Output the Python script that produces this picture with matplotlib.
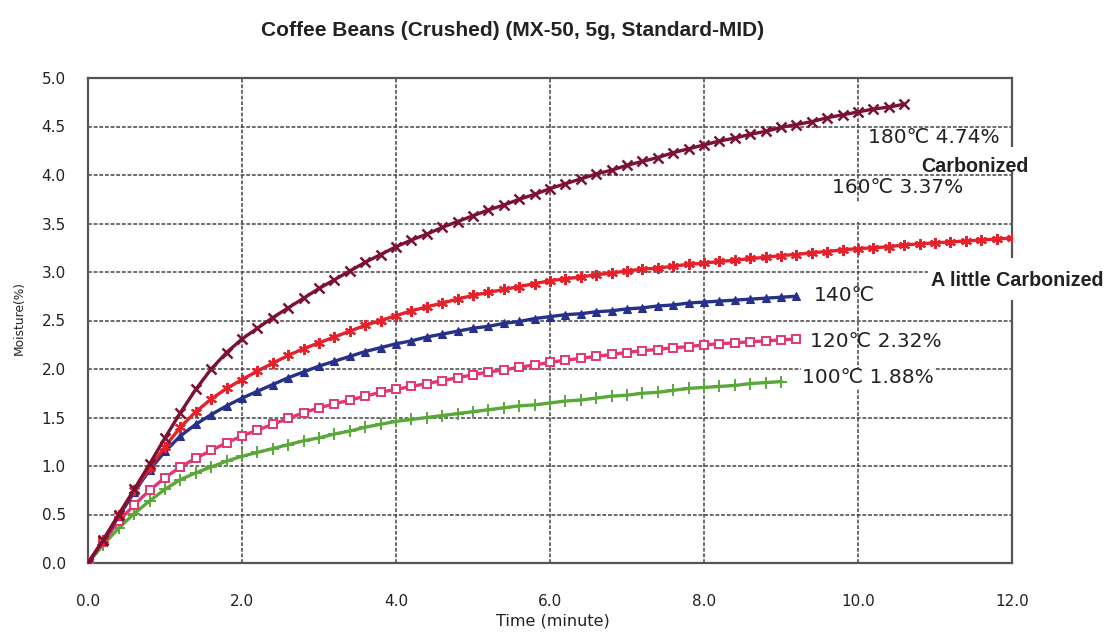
import matplotlib
matplotlib.use("Agg")
import matplotlib.pyplot as plt
from matplotlib.patches import Rectangle

# ---------------- data ----------------
time_min = [0.0, 0.2, 0.4, 0.6, 0.8, 1.0, 1.2, 1.4, 1.6, 1.8,
            2.0, 2.2, 2.4, 2.6, 2.8, 3.0, 3.2, 3.4, 3.6, 3.8,
            4.0, 4.2, 4.4, 4.6, 4.8, 5.0, 5.2, 5.4, 5.6, 5.8,
            6.0, 6.2, 6.4, 6.6, 6.8, 7.0, 7.2, 7.4, 7.6, 7.8,
            8.0, 8.2, 8.4, 8.6, 8.8, 9.0, 9.2, 9.4, 9.6, 9.8,
            10.0, 10.2, 10.4, 10.6, 10.8, 11.0, 11.2, 11.4, 11.6, 11.8,
            12.0]

m180 = [0.00, 0.24, 0.50, 0.76, 1.02, 1.29, 1.55, 1.79, 2.00, 2.17,
        2.31, 2.42, 2.53, 2.63, 2.73, 2.83, 2.92, 3.01, 3.10, 3.18,
        3.26, 3.33, 3.39, 3.46, 3.52, 3.58, 3.64, 3.69, 3.75, 3.80,
        3.86, 3.91, 3.96, 4.01, 4.05, 4.10, 4.14, 4.18, 4.23, 4.27,
        4.31, 4.35, 4.38, 4.42, 4.45, 4.49, 4.52, 4.55, 4.59, 4.62,
        4.65, 4.68, 4.70, 4.73]

m160 = [0.00, 0.24, 0.50, 0.75, 0.98, 1.20, 1.40, 1.56, 1.69, 1.80,
        1.89, 1.98, 2.06, 2.14, 2.21, 2.27, 2.33, 2.39, 2.45, 2.50,
        2.55, 2.60, 2.64, 2.68, 2.72, 2.76, 2.79, 2.82, 2.85, 2.88,
        2.91, 2.93, 2.95, 2.97, 2.99, 3.01, 3.03, 3.04, 3.06, 3.08,
        3.09, 3.11, 3.12, 3.14, 3.15, 3.17, 3.18, 3.20, 3.21, 3.23,
        3.24, 3.25, 3.26, 3.28, 3.29, 3.30, 3.31, 3.32, 3.33, 3.34,
        3.35]

m140 = [0.00, 0.23, 0.48, 0.73, 0.96, 1.15, 1.31, 1.43, 1.53, 1.62,
        1.70, 1.77, 1.84, 1.91, 1.97, 2.03, 2.08, 2.13, 2.18, 2.22,
        2.26, 2.29, 2.33, 2.36, 2.39, 2.42, 2.44, 2.47, 2.49, 2.52,
        2.54, 2.56, 2.57, 2.59, 2.60, 2.62, 2.63, 2.65, 2.66, 2.68,
        2.69, 2.70, 2.71, 2.72, 2.73, 2.74, 2.75]

m120 = [0.00, 0.22, 0.43, 0.60, 0.75, 0.88, 0.99, 1.08, 1.16, 1.24,
        1.31, 1.37, 1.43, 1.49, 1.55, 1.60, 1.64, 1.68, 1.72, 1.76,
        1.79, 1.82, 1.85, 1.88, 1.91, 1.94, 1.97, 1.99, 2.02, 2.04,
        2.07, 2.09, 2.11, 2.13, 2.15, 2.17, 2.19, 2.20, 2.22, 2.23,
        2.25, 2.26, 2.27, 2.28, 2.29, 2.30, 2.31]

m100 = [0.00, 0.19, 0.36, 0.51, 0.64, 0.76, 0.86, 0.93, 0.99, 1.05,
        1.10, 1.14, 1.18, 1.22, 1.26, 1.29, 1.33, 1.36, 1.40, 1.43,
        1.46, 1.48, 1.50, 1.52, 1.54, 1.56, 1.58, 1.60, 1.62, 1.63,
        1.65, 1.67, 1.68, 1.70, 1.72, 1.73, 1.75, 1.76, 1.78, 1.80,
        1.81, 1.82, 1.83, 1.85, 1.86, 1.87]

series_labels = ["180℃ 4.74%", "160℃ 3.37%", "140℃", "120℃ 2.32%", "100℃ 1.88%"]
x_ticks = [0, 2, 4, 6, 8, 10, 12]
y_ticks = [0.0, 0.5, 1.0, 1.5, 2.0, 2.5, 3.0, 3.5, 4.0, 4.5, 5.0]

title = "Coffee Beans (Crushed) (MX-50, 5g, Standard-MID)"
x_label = "Time (minute)"
y_label = "Moisture(%)"

# ---------------- figure ----------------
W, H = 1108, 633
fig = plt.figure(figsize=(W / 100, H / 100), dpi=100)
fig.patch.set_facecolor("white")

def fx(px):
    return px / W

def fy(py):
    return 1 - py / H

ax = fig.add_axes([fx(88), fy(563), fx(1012) - fx(88), fy(78) - fy(563)])
ax.set_xlim(0, 12)
ax.set_ylim(0, 5)

styles = [
    (m100, "#5aa83a", "+", dict(ms=8, mew=1.4)),
    (m120, "#e4366f", "s", dict(ms=6, mew=1.4, mfc="white")),
    (m140, "#27318a", "^", dict(ms=6, mew=0.8)),
    (m160, "#e5222b", (6, 2, 0), dict(ms=8, mew=1.5)),
    (m180, "#7c1232", "x", dict(ms=7, mew=1.8)),
]
for vals, col, mk, kw in styles:
    ax.plot(time_min[:len(vals)], vals, color=col, lw=2.4, marker=mk,
            mec=col, zorder=3, **kw)

ax.set_xticks(x_ticks)
ax.set_xticklabels([f"{v:.1f}" for v in x_ticks])
ax.set_yticks(y_ticks)
ax.set_yticklabels([f"{v:.1f}" for v in y_ticks])
ax.tick_params(length=0, labelsize=11, colors="#222222")
ax.tick_params(axis="x", pad=22)
ax.tick_params(axis="y", pad=16)
ax.grid(True, color="#444444", lw=1.1, linestyle=(0, (2.5, 1.2)))
ax.set_axisbelow(True)
for sp in ax.spines.values():
    sp.set_color("#555555")
    sp.set_linewidth(1.6)

fig.text(fx(513), fy(30), title, ha="center", va="center",
         fontsize=15, fontweight="bold", family="Liberation Sans",
         color="#222222")
fig.text(fx(553), fy(621), x_label, ha="center", va="center",
         fontsize=11.5, color="#222222")
fig.text(fx(19), fy(318), y_label, ha="center", va="center",
         rotation=90, fontsize=8.8, color="#222222")

# series labels
lab_pos = [(10.13, 4.39), (9.66, 3.87), (9.42, 2.76), (9.38, 2.28), (9.27, 1.91)]
for i, (txt, (lx, ly)) in enumerate(zip(series_labels, lab_pos)):
    kw = {}
    if i == 4:
        kw["bbox"] = dict(facecolor="white", edgecolor="none", pad=0.5)
    ax.text(lx, ly, txt, ha="left", va="center", fontsize=14.5,
            color="#222222", zorder=5, clip_on=False, **kw)

# white patches & comments
for (x0, y0, x1, y1) in [(862, 147, 1032, 172), (828, 202, 917, 222),
                         (928, 258, 1108, 300)]:
    fig.add_artist(Rectangle((fx(x0), fy(y1)), fx(x1) - fx(x0), fy(y0) - fy(y1),
                             transform=fig.transFigure, facecolor="white",
                             edgecolor="none", zorder=6))

fig.text(fx(921), fy(166), "Carbonized", ha="left", va="center",
         fontsize=14.2, fontweight="bold", family="Liberation Sans",
         color="#222222", zorder=7)
fig.text(fx(931), fy(280), "A little Carbonized", ha="left", va="center",
         fontsize=14.2, fontweight="bold", family="Liberation Sans",
         color="#222222", zorder=7)

fig.savefig("out.png", dpi=100, facecolor="white")
